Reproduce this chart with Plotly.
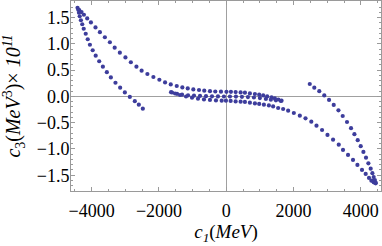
import plotly.graph_objects as go

# Branch A: upper-left outer arc continuing into the upper central band
a_x = [-4421, -4370, -4302, -4231, -4133, -4023, -3887, -3756, -3608, -3459,
       -3317, -3163, -2997, -2836, -2670, -2516, -2344, -2166, -1988, -1819,
       -1650, -1472, -1305, -1145, -979, -810, -653, -484, -326, -157,
       6, 139, 279, 427, 555, 703, 852, 979, 1098, 1216,
       1347, 1445, 1549, 1644]
a_y = [1.686, 1.643, 1.605, 1.553, 1.483, 1.407, 1.312, 1.221, 1.125, 1.030,
       0.926, 0.831, 0.741, 0.650, 0.565, 0.489, 0.426, 0.369, 0.317, 0.266,
       0.228, 0.198, 0.171, 0.152, 0.133, 0.122, 0.108, 0.099, 0.093, 0.089,
       0.087, 0.086, 0.082, 0.076, 0.070, 0.057, 0.046, 0.032, 0.019, 0.0,
       -0.019, -0.038, -0.059, -0.082]

# Branch B: middle central band
b_x = [-1611, -1463, -1314, -1136, -958, -780, -602, -424, -246, -68,
       110, 288, 466, 644, 822, 1000, 1178, 1326, 1475, 1623]
b_y = [0.074, 0.048, 0.032, 0.021, 0.013, 0.008, 0.004, 0.002, 0.0, -0.002,
       -0.002, -0.004, -0.008, -0.013, -0.021, -0.032, -0.048, -0.063, -0.074, -0.086]

# Branch C: lower-right outer arc continuing into the lower central band
c_x = [4442, 4382, 4314, 4243, 4145, 4035, 3899, 3768, 3620, 3471,
       3344, 3175, 3009, 2848, 2682, 2528, 2356, 2187, 2009, 1840,
       1691, 1543, 1394, 1267, 1119, 979, 852, 703, 555, 427,
       279, 131, -9, -136, -306, -484, -662, -840, -1018, -1196,
       -1374, -1522, -1641]
c_y = [-1.654, -1.635, -1.603, -1.551, -1.475, -1.399, -1.304, -1.209, -1.114, -1.019,
       -0.918, -0.823, -0.734, -0.639, -0.557, -0.481, -0.418, -0.367, -0.316, -0.272,
       -0.240, -0.221, -0.190, -0.171, -0.158, -0.144, -0.133, -0.120, -0.106, -0.101,
       -0.095, -0.087, -0.082, -0.082, -0.076, -0.068, -0.057, -0.044, -0.025, -0.002,
       0.027, 0.055, 0.080]

# Branch D: upper-left inner branch
d_x = [-4400, -4379, -4356, -4320, -4281, -4237, -4177, -4118, -4053, -3970,
       -3881, -3777, -3667, -3549, -3430, -3293, -3154, -3014, -2866, -2718,
       -2599, -2480]
d_y = [1.648, 1.591, 1.525, 1.449, 1.373, 1.287, 1.192, 1.087, 0.983, 0.878,
       0.774, 0.669, 0.565, 0.460, 0.361, 0.260, 0.165, 0.076, -0.011, -0.091,
       -0.158, -0.234]

# Branch E: lower-right inner branch
e_x = [2483, 2617, 2765, 2914, 3056, 3195, 3335, 3462, 3590, 3709,
       3810, 3908, 3997, 4077, 4154, 4225, 4293, 4344, 4382, 4418, 4442]
e_y = [0.236, 0.165, 0.099, 0.019, -0.068, -0.163, -0.266, -0.373, -0.487, -0.605,
       -0.719, -0.833, -0.947, -1.057, -1.165, -1.274, -1.375, -1.460, -1.536, -1.593, -1.641]

x_tick_vals = [-4000, -2000, 0, 2000, 4000]
x_tick_text = ["\u22124000", "\u22122000", "0", "2000", "4000"]
y_tick_vals = [-1.5, -1.0, -0.5, 0.0, 0.5, 1.0, 1.5]
y_tick_text = ["\u22121.5", "\u22121.0", "\u22120.5", "0.0", "0.5", "1.0", "1.5"]

dot_color = "#3d3d9c"
fig = go.Figure()
for xs, ys in [(a_x, a_y), (b_x, b_y), (c_x, c_y), (d_x, d_y), (e_x, e_y)]:
    fig.add_trace(go.Scatter(x=xs, y=ys, mode="markers",
                             marker=dict(color=dot_color, size=4.2, line=dict(width=0)),
                             showlegend=False, hoverinfo="skip", cliponaxis=False))

font_family = "Liberation Serif, Times New Roman, serif"
axis_common = dict(
    showgrid=False, showline=True, linecolor="#9a9a9a", linewidth=1,
    mirror="allticks", ticks="inside", tickcolor="#9a9a9a",
    zeroline=True, zerolinecolor="#a0a0a0", zerolinewidth=1,
    tickfont=dict(family=font_family, size=18, color="black"),
    automargin=False,
)
fig.update_xaxes(
    range=[-4615, 4600], tickmode="array", tickvals=x_tick_vals, ticktext=x_tick_text,
    ticklen=4, ticklabelstandoff=3,
    minor=dict(dtick=500, ticklen=2, ticks="inside", tickcolor="#9a9a9a"),
    title=dict(text="<i>c</i><sub><i>1</i></sub>(<i>MeV</i>)",
               font=dict(family=font_family, size=19, color="black"), standoff=2),
    **axis_common)
fig.update_yaxes(
    range=[-1.80, 1.815], tickmode="array", tickvals=y_tick_vals, ticktext=y_tick_text,
    ticklen=4, ticklabelstandoff=-3,
    minor=dict(dtick=0.1, ticklen=2, ticks="inside", tickcolor="#9a9a9a"),
    title=dict(text="<i>c</i><sub>3</sub>(<i>MeV</i><sup>3</sup>)\u00d7 <i>10</i><sup><i>11</i></sup>",
               font=dict(family=font_family, size=20, color="black"), standoff=11),
    **axis_common)
fig.update_layout(
    width=382, height=246,
    margin=dict(l=71, r=1, t=1, b=55, autoexpand=False),
    paper_bgcolor="white", plot_bgcolor="white",
)
fig.write_html("out.html", config={"displayModeBar": False},
               post_script="document.body.style.margin='0';document.body.style.overflow='hidden';")
